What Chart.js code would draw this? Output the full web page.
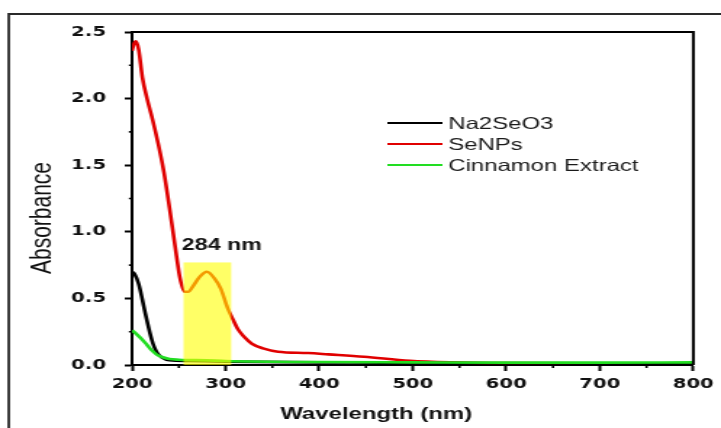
<!DOCTYPE html>
<html>
<head>
<meta charset="utf-8">
<script src="https://cdn.jsdelivr.net/npm/chart.js@4.4.1/dist/chart.umd.min.js"></script>
<style>
  html, body { margin: 0; padding: 0; background: #fff; }
  #uvChart { position: absolute; left: 0; top: 0; }
</style>
</head>
<body>
<canvas id="uvChart" height="428" style="width:721px;height:428px"></canvas>
<script>
// ---------- Data ----------
const naWavelength = [200, 203, 207, 211, 214, 218, 221, 224, 227, 232, 240, 260, 300, 400, 500, 600, 700, 800];
const naAbsorbance = [0.70, 0.68, 0.61, 0.49, 0.39, 0.27, 0.19, 0.13, 0.09, 0.055, 0.035, 0.03, 0.025, 0.02, 0.015, 0.012, 0.01, 0.01];

const seWavelength = [200, 202, 204, 207, 211, 216, 222, 228, 234, 240, 246, 251, 256, 260, 266, 272, 280, 288, 295, 302, 308, 313, 320, 328, 340, 356, 388, 410, 448, 497, 543, 600, 700, 800];
const seAbsorbance = [2.36, 2.41, 2.43, 2.37, 2.16, 2.00, 1.84, 1.66, 1.45, 1.18, 0.89, 0.66, 0.55, 0.55, 0.60, 0.66, 0.70, 0.65, 0.57, 0.43, 0.34, 0.27, 0.21, 0.16, 0.125, 0.10, 0.09, 0.08, 0.062, 0.032, 0.02, 0.014, 0.012, 0.012];

const ceWavelength = [200, 205, 211, 216, 221, 226, 232, 240, 250, 280, 300, 400, 500, 600, 700, 800];
const ceAbsorbance = [0.26, 0.23, 0.19, 0.15, 0.11, 0.08, 0.06, 0.045, 0.04, 0.035, 0.03, 0.022, 0.02, 0.018, 0.018, 0.02];

const seriesLabels = ["Na2SeO3", "SeNPs", "Cinnamon Extract"];
const xTitle = "Wavelength (nm)";
const yTitle = "Absorbance";
const highlightRange = [255, 306];   // nm
const highlightTop = 0.77;
const peakLabel = "284 nm";
const peakLabelAt = [296, 0.90];     // nm, absorbance

// the picture is stretched sideways, so draw narrow and let css widen it
const STRETCH = 1.45;
const FONT = "'Liberation Sans', Arial, sans-serif";
const TICK_FONT = "'DejaVu Sans', Verdana, sans-serif";

// ---------- Helpers ----------
function toPoints(xs, ys) {
  return xs.map((x, i) => ({ x: x, y: ys[i] }));
}

const decorPlugin = {
  id: "decor",
  beforeDraw(chart) {
    const ctx = chart.ctx;
    ctx.save();
    ctx.strokeStyle = "#2a2a2a";
    ctx.lineWidth = 1.8;
    ctx.beginPath();
    ctx.moveTo(6, chart.height);
    ctx.lineTo(6, 14);
    ctx.lineTo(chart.width, 14);
    ctx.stroke();

    // axis titles (off-centre in the original, so drawn here)
    ctx.fillStyle = "#111";
    ctx.textAlign = "center";
    ctx.textBaseline = "middle";
    ctx.font = "bold 16.5px " + FONT;
    ctx.fillText(xTitle, 376 / STRETCH, 414);
    ctx.translate(42 / STRETCH, 218);
    ctx.rotate(-Math.PI / 2);
    ctx.font = "21px " + FONT;
    ctx.fillText(yTitle, 0, 0);
    ctx.restore();
  },
  afterDatasetsDraw(chart) {
    const ctx = chart.ctx;
    const area = chart.chartArea;
    const x = chart.scales.x;
    const y = chart.scales.y;
    ctx.save();

    // yellow band over the peak
    const x0 = x.getPixelForValue(highlightRange[0]);
    const x1 = x.getPixelForValue(highlightRange[1]);
    const yTop = y.getPixelForValue(highlightTop);
    ctx.fillStyle = "rgba(255,255,0,0.6)";
    ctx.fillRect(x0, yTop, x1 - x0, y.getPixelForValue(0) - yTop);

    ctx.fillStyle = "#111";
    ctx.font = "bold 16px " + FONT;
    ctx.textAlign = "center";
    ctx.textBaseline = "middle";
    ctx.fillText(peakLabel, x.getPixelForValue(peakLabelAt[0]), y.getPixelForValue(peakLabelAt[1]));

    // frame top + right
    ctx.strokeStyle = "#000";
    ctx.lineWidth = 2;
    ctx.beginPath();
    ctx.moveTo(area.left, area.top);
    ctx.lineTo(area.right, area.top);
    ctx.lineTo(area.right, area.bottom);
    ctx.stroke();

    // minor ticks
    ctx.lineWidth = 1.6;
    ctx.beginPath();
    for (let v = 250; v < 800; v += 100) {
      const px = x.getPixelForValue(v);
      ctx.moveTo(px, area.bottom);
      ctx.lineTo(px, area.bottom + 3);
    }
    for (let v = 0.25; v < 2.5; v += 0.5) {
      const py = y.getPixelForValue(v);
      ctx.moveTo(area.left, py);
      ctx.lineTo(area.left - 2.2, py);
    }
    ctx.stroke();

    // legend
    ctx.font = "16.5px " + FONT;
    ctx.textAlign = "left";
    chart.data.datasets.forEach((ds, i) => {
      const ly = 123 + i * 21;
      ctx.strokeStyle = ds.borderColor;
      ctx.lineWidth = 2;
      ctx.beginPath();
      ctx.moveTo(267, ly);
      ctx.lineTo(305, ly);
      ctx.stroke();
      ctx.fillStyle = "#1a1a1a";
      ctx.fillText(ds.label, 309, ly + 1);
    });
    ctx.restore();
  }
};

// ---------- Chart ----------
const canvas = document.getElementById("uvChart");
canvas.width = Math.round(721 / STRETCH);
const plotLeft = 132 / STRETCH;
const plotRight = 699 / STRETCH;

new Chart(canvas.getContext("2d"), {
  type: "line",
  data: {
    datasets: [
      {
        label: seriesLabels[0],
        data: toPoints(naWavelength, naAbsorbance),
        borderColor: "#000000",
        order: 1
      },
      {
        label: seriesLabels[1],
        data: toPoints(seWavelength, seAbsorbance),
        borderColor: "#e00000",
        order: 2
      },
      {
        label: seriesLabels[2],
        data: toPoints(ceWavelength, ceAbsorbance),
        borderColor: "#22dd22",
        order: 0
      }
    ]
  },
  options: {
    responsive: false,
    devicePixelRatio: 1,
    animation: false,
    datasets: {
      line: {
        borderWidth: 2.6,
        pointRadius: 0,
        tension: 0.4,
        cubicInterpolationMode: "monotone",
        fill: false
      }
    },
    layout: {
      padding: { left: 0, right: canvas.width - plotRight, top: 32, bottom: 0 }
    },
    plugins: {
      legend: { display: false },
      tooltip: { enabled: false }
    },
    scales: {
      x: {
        type: "linear",
        min: 200,
        max: 800,
        afterFit(scale) { scale.height = 63; },
        ticks: {
          stepSize: 100,
          color: "#111",
          padding: 5,
          maxRotation: 0,
          font: { family: TICK_FONT, size: 13.5, weight: "bold" }
        },
        grid: { drawOnChartArea: false, tickLength: 6, color: "#000", tickWidth: 2 },
        border: { color: "#000", width: 2 },
        title: { display: false }
      },
      y: {
        min: 0,
        max: 2.5,
        afterFit(scale) { scale.width = plotLeft; },
        ticks: {
          stepSize: 0.5,
          color: "#111",
          padding: 13,
          callback: (v) => v.toFixed(1),
          font: { family: TICK_FONT, size: 13.5, weight: "bold" }
        },
        grid: { drawOnChartArea: false, tickLength: 5, color: "#000", tickWidth: 2 },
        border: { color: "#000", width: 2 },
        title: { display: false }
      }
    }
  },
  plugins: [decorPlugin]
});
</script>
</body>
</html>
